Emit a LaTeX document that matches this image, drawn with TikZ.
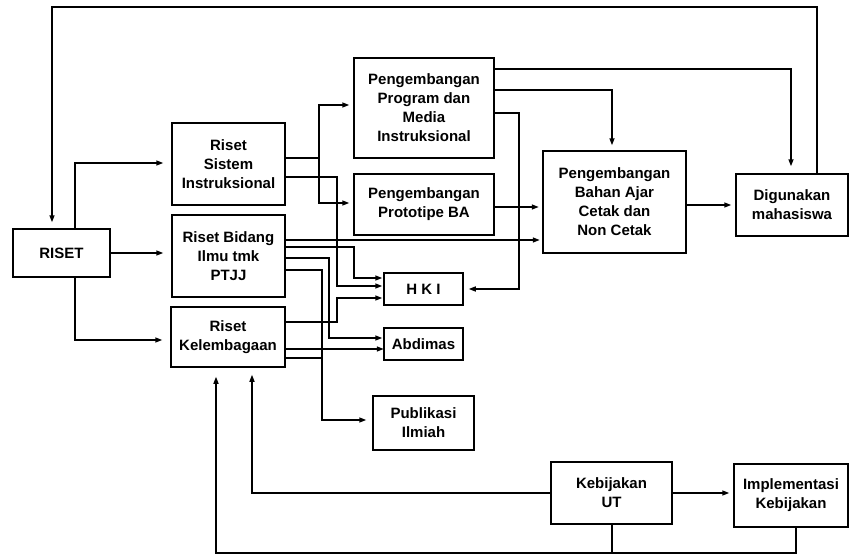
\documentclass[tikz,border=0pt]{standalone}
\usepackage{fontspec}
\setmainfont{Liberation Sans}
\usetikzlibrary{arrows.meta}

\begin{document}
\begin{tikzpicture}[x=1pt, y=-1pt,
  box/.style={draw, line width=1.5pt, align=center, inner sep=0pt,
    font=\fontsize{15}{19}\selectfont\bfseries},
  link/.style={line width=1.5pt, -{Triangle[length=7pt,width=5pt]},
    shorten >=4pt},
  wire/.style={line width=1.5pt}
]
  \useasboundingbox (0,0) rectangle (849,554);

  \node[box, minimum width=97pt, minimum height=48pt] (riset) at (61.5,253) {RISET};
  \node[box, minimum width=113pt, minimum height=82pt] (sistem) at (228.5,164) {Riset\\Sistem\\Instruksional};
  \node[box, minimum width=113pt, minimum height=82pt] (bidang) at (228.5,256) {Riset Bidang\\Ilmu tmk\\PTJJ};
  \node[box, minimum width=114pt, minimum height=60pt] (lemb) at (228,337) {Riset\\Kelembagaan};
  \node[box, minimum width=140pt, minimum height=100pt] (program) at (424,108) {Pengembangan\\Program dan\\Media\\Instruksional};
  \node[box, minimum width=140pt, minimum height=61pt] (proto) at (424,204.5) {Pengembangan\\Prototipe BA};
  \node[box, minimum width=79pt, minimum height=32pt] (hki) at (423.5,289) {H K I};
  \node[box, minimum width=79pt, minimum height=32pt] (abdimas) at (423.5,344) {Abdimas};
  \node[box, minimum width=101pt, minimum height=54pt] (publ) at (423.5,423) {Publikasi\\Ilmiah};
  \node[box, minimum width=143pt, minimum height=102pt] (bahan) at (614.5,202) {Pengembangan\\Bahan Ajar\\Cetak dan\\Non Cetak};
  \node[box, minimum width=112pt, minimum height=62pt] (guna) at (792,205) {Digunakan\\mahasiswa};
  \node[box, minimum width=121pt, minimum height=62pt] (kebij) at (611.5,493) {Kebijakan\\UT};
  \node[box, minimum width=114pt, minimum height=63pt] (impl) at (791,495.5) {Implementasi\\Kebijakan};

  \coordinate (tl) at (52,7);
  \coordinate (fb) at (216,553);

  \draw[link, shorten >=6pt] ([xshift=25pt]guna.north) |- (tl) -- (tl |- riset.north);
  \draw[link, shorten >=8pt] ([xshift=13.5pt]riset.north) |- ([yshift=1pt]sistem.west);
  \draw[link, shorten >=8pt] (riset.east) -- (riset.east -| bidang.west);
  \draw[link, shorten >=8pt] ([xshift=13.5pt]riset.south) |- ([yshift=-3pt]lemb.west);

  \draw[link] ([yshift=6pt]sistem.east) -- ++(33,0) |- ([yshift=3pt]program.west);
  \draw[link] ([yshift=6pt]sistem.east) -- ++(33,0) |- ([yshift=1.5pt]proto.west);
  \draw[link, shorten >=1pt] ([yshift=-13pt]sistem.east) -- ++(51,0) |- ([yshift=3pt]hki.west);

  \draw[link] ([yshift=16pt]bidang.east) -- ++(258,0);
  \draw[link, shorten >=1pt] ([yshift=9pt]bidang.east) -- ++(68,0) |- ([yshift=11pt]hki.west);
  \draw[link, shorten >=1pt] ([yshift=-2pt]bidang.east) -- ++(43,0) |- ([yshift=6pt]abdimas.west);
  \draw[link, shorten >=6pt] ([yshift=-14pt]bidang.east) -- ++(36,0) |- ([yshift=3pt]publ.west);

  \draw[link, shorten >=1pt] ([yshift=15pt]lemb.east) -- ++(51,0) |- ([yshift=-9pt]hki.west);
  \draw[link, shorten >=1pt] ([yshift=-12pt]lemb.east) -- ++(99,0);
  \draw[wire] ([yshift=-21pt]lemb.east) -- ++(36,0);

  \draw[link, shorten >=7pt] ([yshift=39pt]program.east) -| ([xshift=-1pt]guna.north);
  \draw[link, shorten >=5pt] ([yshift=18pt]program.east) -| ([xshift=-2.5pt]bahan.north);
  \draw[link, shorten >=5pt] ([yshift=-5pt]program.east) -- ++(24,0) |- (hki.east);

  \draw[link, shorten >=5pt] ([yshift=-2.5pt]proto.east) -- ++(49,0);
  \draw[link] (bahan.east |- guna.west) -- (guna.west);

  \draw[link, shorten >=7pt] (kebij.west) -| ([xshift=24pt]lemb.south);
  \draw[link] (kebij.east) -- (kebij.east -| impl.west);
  \draw[link, shorten >=9pt] ([xshift=5pt]impl.south) |- (fb) -- (fb |- lemb.south);
  \draw[wire] ([xshift=0.5pt]kebij.south) -- ([xshift=0.5pt]kebij.south |- fb);
\end{tikzpicture}
\end{document}
